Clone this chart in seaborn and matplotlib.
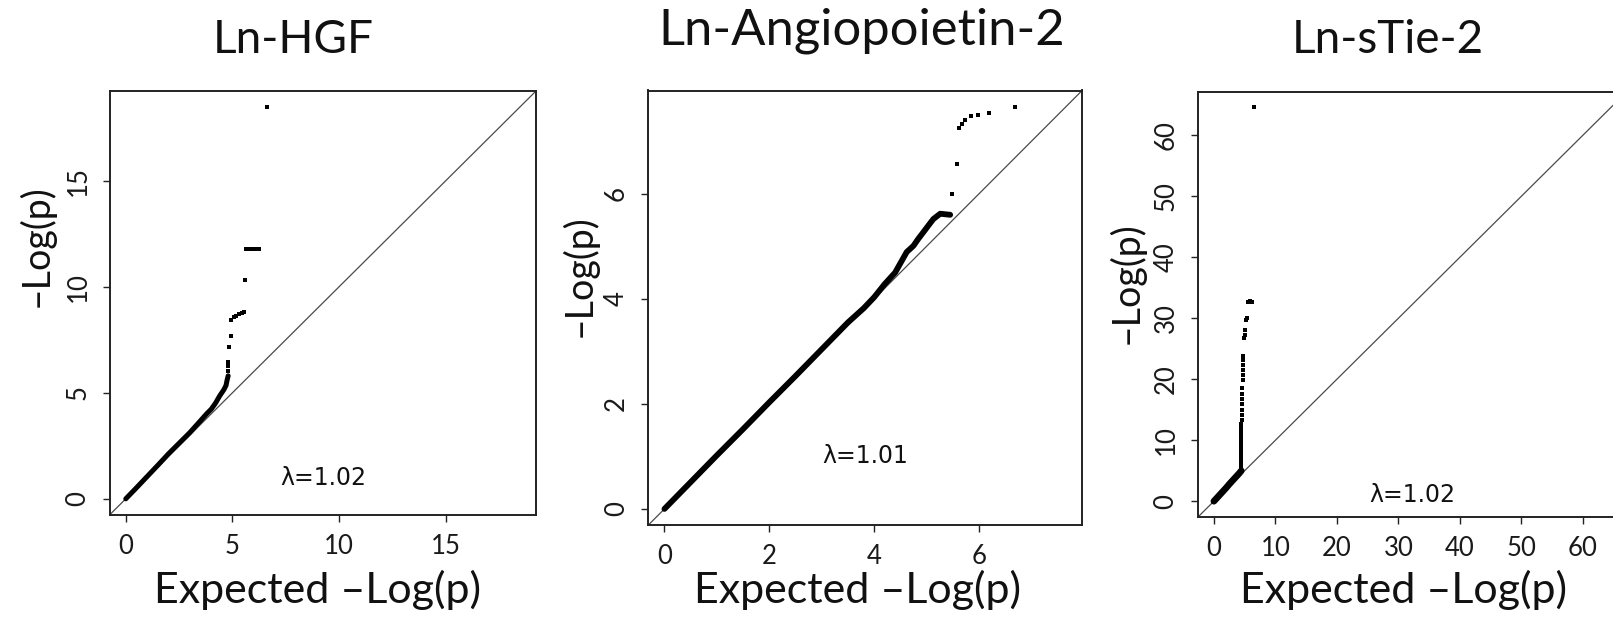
import numpy as np
import pandas as pd
import matplotlib
matplotlib.use("Agg")
import matplotlib.pyplot as plt
import seaborn as sns

# ---------------- data ----------------
titles = ["Ln-HGF", "Ln-Angiopoietin-2", "Ln-sTie-2"]
lambda_labels = ["λ=1.02", "λ=1.01", "λ=1.02"]
tick_values = [[0, 5, 10, 15], [0, 2, 4, 6], [0, 10, 20, 30, 40, 50, 60]]

# Ln-HGF
hgf_body_exp = [0.0, 0.5, 1.0, 1.5, 2.0, 2.5, 3.0, 3.5, 3.8, 4.0, 4.2, 4.4, 4.5, 4.6, 4.7, 4.75, 4.8]
hgf_body_obs = [0.0, 0.52, 1.05, 1.58, 2.12, 2.62, 3.12, 3.68, 4.02, 4.22, 4.5, 4.85, 5.0, 5.15, 5.35, 5.6, 5.8]
hgf_tail_exp = [4.78, 4.8, 4.78, 4.84, 4.92, 4.95, 5.05, 5.15, 5.3, 5.45, 5.55, 5.6,
                5.65, 5.8, 5.95, 6.1, 6.25, 6.62]
hgf_tail_obs = [6.05, 6.25, 6.45, 7.14, 7.7, 8.45, 8.55, 8.62, 8.7, 8.75, 8.8, 10.33,
                11.78, 11.78, 11.78, 11.78, 11.78, 18.49]

# Ln-Angiopoietin-2
ang_body_exp = [0.0, 0.5, 1.0, 1.5, 2.0, 2.5, 3.0, 3.5, 3.8, 4.0, 4.2, 4.4, 4.53, 4.62,
                4.75, 4.84, 4.94, 5.03, 5.13, 5.26, 5.45]
ang_body_obs = [0.0, 0.51, 1.02, 1.52, 2.03, 2.53, 3.04, 3.55, 3.82, 4.03, 4.28, 4.5, 4.73, 4.89,
                5.01, 5.14, 5.27, 5.39, 5.52, 5.62, 5.6]
ang_tail_exp = [5.49, 5.58, 5.62, 5.67, 5.73, 5.84, 5.99, 6.20, 6.69]
ang_tail_obs = [6.00, 6.57, 7.26, 7.33, 7.40, 7.48, 7.50, 7.54, 7.66]

# Ln-sTie-2
tie_body_exp = [0.0, 0.5, 1.0, 1.5, 2.0, 2.5, 3.0, 3.5, 4.0, 4.3, 4.45]
tie_body_obs = [0.0, 0.55, 1.1, 1.65, 2.2, 2.8, 3.35, 3.9, 4.45, 4.8, 5.0]
tie_tail_exp = [4.45, 4.45, 4.45, 4.45, 4.45, 4.45, 4.45, 4.45, 4.45, 4.45, 4.45, 4.45, 4.45,
                4.56, 4.56, 4.56, 4.56, 4.56, 4.56, 4.56,
                4.72, 4.72, 4.72, 4.72, 4.72, 4.72,
                4.94, 5.05, 5.1, 5.3, 5.4, 5.5, 5.9, 6.2, 6.5]
tie_tail_obs = [5.3, 5.9, 6.5, 7.1, 7.7, 8.3, 8.9, 9.5, 10.1, 10.7, 11.3, 12.0, 12.7,
                13.4, 14.2, 15.0, 15.9, 16.8, 17.6, 18.6,
                19.9, 20.7, 21.5, 22.3, 23.1, 23.8,
                26.7, 27.3, 28.0, 29.7, 30.1, 32.6, 32.9, 32.7, 64.6]

panels = [
    (hgf_body_exp, hgf_body_obs, hgf_tail_exp, hgf_tail_obs),
    (ang_body_exp, ang_body_obs, ang_tail_exp, ang_tail_obs),
    (tie_body_exp, tie_body_obs, tie_tail_exp, tie_tail_obs),
]

# ---------------- style / layout ----------------
sns.set_theme(style="ticks")
plt.rcParams["font.family"] = ["Lato", "DejaVu Sans"]

W, H = 1613, 621
fig = plt.figure(figsize=(W / 100, H / 100), dpi=100)

# axes boxes in pixels: left, top, right, bottom
boxes = [(110, 91, 536, 514.5), (648.4, 90.5, 1082.1, 525), (1198, 91.5, 1627, 517)]
body_lw = [3.6, 4.2, 4.8]
marker_s = [9, 11, 8]
title_pos = [(293, 53), (862, 45), (1388, 53)]
title_size = [33, 36.5, 33]
ylabel_pos = [(-0.174, 0.635), (-0.159, 0.575), (-0.168, 0.55)]
xlabel_pos = [(0.488, -0.130), (0.482, -0.103), (0.478, -0.124)]

for i, (bx, by, tx, ty) in enumerate(panels):
    l, t, r, b = boxes[i]
    ax = fig.add_axes([l / W, 1 - b / H, (r - l) / W, (b - t) / H])
    ax.set_facecolor("white")

    m = max(max(by), max(ty))
    lo, hi = -0.04 * m, 1.04 * m
    ax.set_xlim(lo, hi)
    ax.set_ylim(lo, hi)

    ax.axline((0, 0), slope=1, color="#4a4a4a", lw=0.9, zorder=1)

    body = pd.DataFrame({"exp": bx, "obs": by})
    sns.lineplot(data=body, x="exp", y="obs", ax=ax, color="black", lw=body_lw[i],
                 sort=False, estimator=None, zorder=3)
    tail = pd.DataFrame({"exp": tx, "obs": ty})
    sns.scatterplot(data=tail, x="exp", y="obs", ax=ax, color="black", marker="s",
                    s=marker_s[i], linewidth=0, zorder=3)

    ax.text((lo + hi) / 2, 1.0, lambda_labels[i], ha="center", va="center",
            fontsize=17, family=["DejaVu Sans"], color="#111111")

    ax.set_xticks(tick_values[i])
    ax.set_yticks(tick_values[i])
    ax.tick_params(axis="both", direction="out", length=5, width=1.0, color="#222222",
                   labelsize=18.5, labelcolor="#1a1a1a")
    ax.tick_params(axis="x", pad=9)
    ax.tick_params(axis="y", pad=9)
    for lab in ax.get_yticklabels():
        lab.set_rotation(90)
        lab.set_va("center")

    for sp in ax.spines.values():
        sp.set_visible(True)
        sp.set_color("#222222")
        sp.set_linewidth(1.4)

    ax.set_xlabel("Expected –Log(p)", fontsize=31, color="#111111")
    ax.set_ylabel("–Log(p)", fontsize=27, color="#111111")
    ax.xaxis.set_label_coords(*xlabel_pos[i])
    ax.yaxis.set_label_coords(*ylabel_pos[i])
    ax.xaxis.label.set_va("top")
    ax.yaxis.label.set_va("center")

    fig.text(title_pos[i][0] / W, 1 - title_pos[i][1] / H, titles[i], ha="center",
             va="baseline", fontsize=title_size[i], color="#111111")

fig.savefig("out.png", dpi=100, facecolor="white")
